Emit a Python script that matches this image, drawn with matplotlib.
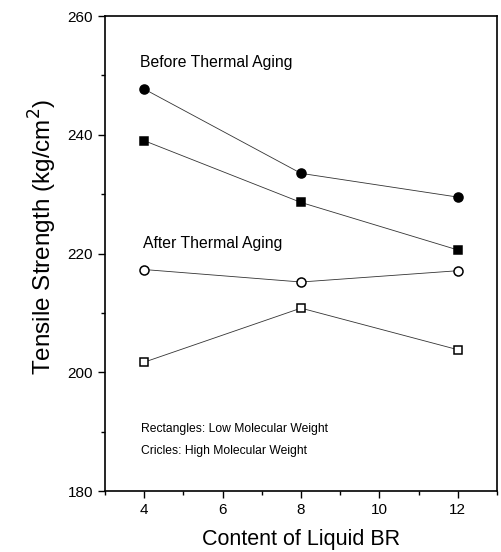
import matplotlib.pyplot as plt
from matplotlib.ticker import MultipleLocator

plt.rcParams['font.family'] = ['Liberation Sans', 'DejaVu Sans']

content = [4, 8, 12]
before_high = [247.7, 233.5, 229.5]   # filled circles
before_low = [239.0, 228.6, 220.6]    # filled squares
after_high = [217.3, 215.2, 217.1]    # open circles
after_low = [201.7, 210.8, 203.8]     # open squares

fig = plt.figure(figsize=(5.01, 5.52), dpi=100)
ax = fig.add_axes([0.2096, 0.1105, 0.7824, 0.8605])

line_kw = dict(color='#333333', lw=0.6, mec='black', mew=1.1)
ax.plot(content, before_high, marker='o', ms=6.5, mfc='black', **line_kw)
ax.plot(content, before_low, marker='s', ms=5.3, mfc='black', **line_kw)
ax.plot(content, after_high, marker='o', ms=6.5, mfc='white', **line_kw)
ax.plot(content, after_low, marker='s', ms=5.3, mfc='white', **line_kw)

ax.set_xlim(3, 13)
ax.set_ylim(180, 260)
ax.xaxis.set_major_locator(MultipleLocator(2))
ax.xaxis.set_minor_locator(MultipleLocator(1))
ax.yaxis.set_major_locator(MultipleLocator(20))
ax.yaxis.set_minor_locator(MultipleLocator(10))
ax.tick_params(which='both', direction='out', top=False, right=False, labelsize=11)
ax.tick_params(which='major', length=5, width=1)
ax.tick_params(which='minor', length=3, width=1)
for s in ax.spines.values():
    s.set_linewidth(1.2)

ax.text(3.88, 252.2, 'Before Thermal Aging', fontsize=11.3, va='center')
ax.text(3.98, 221.7, 'After Thermal Aging', fontsize=11.3, va='center')
ax.text(3.93, 190.4, 'Rectangles: Low Molecular Weight', fontsize=8.7, va='center')
ax.text(3.93, 186.8, 'Cricles: High Molecular Weight', fontsize=8.7, va='center')

ax.set_xlabel('Content of Liquid BR', fontsize=15.5, labelpad=9)
ax.set_ylabel('Tensile Strength (kg/cm$^2$)', fontsize=17.5, va='center')
ax.yaxis.set_label_coords(-0.158, 0.535)

fig.savefig('out.png')
